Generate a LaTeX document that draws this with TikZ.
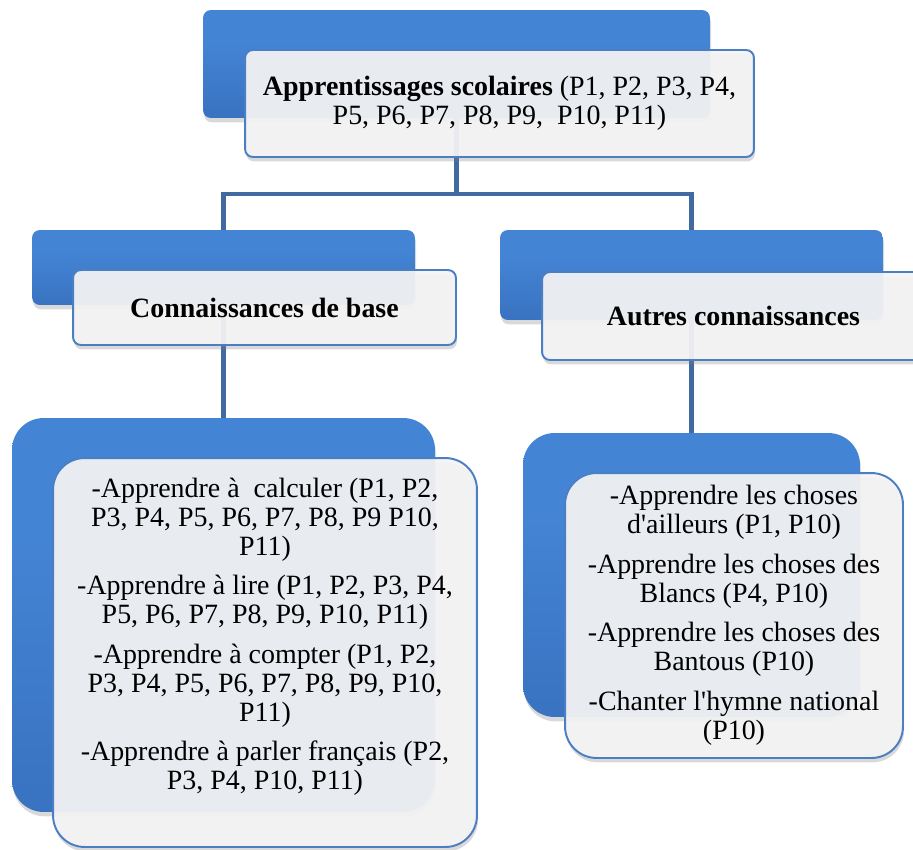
\documentclass[tikz,border=0pt]{standalone}
\usepackage{fontspec}
\setmainfont{Liberation Serif}
\usetikzlibrary{shadows,calc}
\definecolor{blueTop}{RGB}{120,185,245}
\definecolor{blueMid}{RGB}{68,132,212}
\definecolor{blueBot}{RGB}{52,108,185}
\definecolor{rim}{RGB}{76,126,196}
\definecolor{paper}{RGB}{244,244,245}
\definecolor{linkcol}{RGB}{64,106,160}
\pgfdeclareverticalshading{gloss}{100bp}{color(0bp)=(blueBot); color(12bp)=(blueBot);
  color(60bp)=(blueMid); color(95bp)=(blueMid); color(100bp)=(blueTop)}

\begin{document}
\begin{tikzpicture}[x=0.02cm,y=-0.02cm,
  back/.style={rounded corners=4.5pt, shading=gloss, inner sep=0pt,
    drop shadow={opacity=0.3, shadow xshift=0.6pt, shadow yshift=-2.5pt}},
  front/.style={rounded corners=4.5pt, draw=rim, line width=1.1pt, fill=paper,
    fill opacity=0.93, text opacity=1, align=center, inner sep=0pt,
    drop shadow={opacity=0.3, shadow xshift=0.6pt, shadow yshift=-2.5pt}},
  big/.style={rounded corners=18pt},
  link/.style={draw=linkcol, line width=2.3pt},
  body/.style={font=\fontsize{15.9}{16.5}\selectfont}]
  \def\gap{6pt}
  \useasboundingbox (0,0) rectangle (913,849);
  \node[back, minimum width=10.14cm, minimum height=2.16cm] (topback) at (456.5,64) {};
  \node[back, minimum width=7.66cm, minimum height=1.5cm] (leftback) at (223.5,267.5) {};
  \node[back, minimum width=7.66cm, minimum height=1.8cm] (rightback) at (691.5,275) {};
  \node[back, big, minimum width=8.46cm, minimum height=7.88cm] (baseback) at (223.5,615) {};
  \node[back, big, minimum width=6.74cm, minimum height=5.68cm] (otherback) at (691.5,575) {};
  \coordinate (split) at (456.5,194);
  \draw[link] (topback.south) -- (split);
  \draw[link] (leftback.north) |- (split) -| (rightback.north);
  \draw[link] (leftback.south) -- (baseback.north);
  \draw[link] (rightback.south) -- (otherback.north);
  \node[front, body, minimum width=10.18cm, minimum height=2.14cm] (topfront) at (499.5,103.5)
  {\textbf{Apprentissages scolaires} (P1, P2, P3, P4,\\ P5, P6, P7, P8, P9,~ P10, P11)};
  \node[front, body, minimum width=7.66cm, minimum height=1.5cm] (leftfront) at (264.5,307.5)
  {\textbf{Connaissances de base}};
  \node[front, body, minimum width=7.66cm, minimum height=1.76cm] (rightfront) at (733.5,316)
  {\textbf{Autres connaissances}};
  \node[front, body, big, minimum width=8.48cm, minimum height=7.78cm, text depth=0.75cm]
  (basefront) at (265,652.5)
  {-Apprendre à~ calculer (P1, P2,\\ P3, P4, P5, P6, P7, P8, P9 P10,\\ P11)\\[\gap]
   -Apprendre à lire (P1, P2, P3, P4,\\ P5, P6, P7, P8, P9, P10, P11)\\[\gap]
   -Apprendre à compter (P1, P2,\\ P3, P4, P5, P6, P7, P8, P9, P10,\\ P11)\\[\gap]
   -Apprendre à parler français (P2,\\ P3, P4, P10, P11)};
  \node[front, body, big, minimum width=6.76cm, minimum height=5.7cm] (otherfront) at (734,615.5)
  {-Apprendre les choses\\ d\textquotesingle ailleurs (P1, P10)\\[\gap]
   -Apprendre les choses des\\ Blancs (P4, P10)\\[\gap]
   -Apprendre les choses des\\ Bantous (P10)\\[\gap]
   -Chanter l\textquotesingle hymne national\\ (P10)};
\end{tikzpicture}
\end{document}
